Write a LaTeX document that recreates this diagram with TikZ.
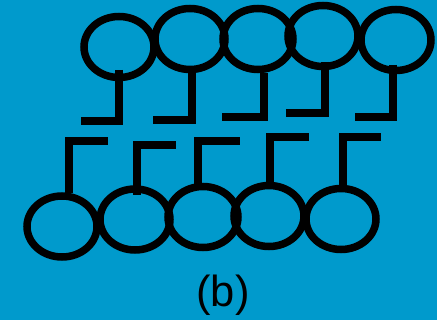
\documentclass[tikz,border=0pt]{standalone}
\usepackage{fontspec}
\setmainfont{Liberation Sans}
\usetikzlibrary{shapes.geometric}
\definecolor{bg}{RGB}{0,154,204}
\begin{document}
\begin{tikzpicture}[x=1pt,y=-1pt,
  ring/.style={draw=black,line width=7.5pt,ellipse,minimum width=70pt,minimum height=61pt,inner sep=0pt,outer sep=0pt},
  stem/.style={draw=black,line width=7.5pt,line cap=butt,line join=miter}]
\fill[bg] (0,0) rectangle (437,320);
\useasboundingbox (0,0) rectangle (437,320);
% top row
\node[ring] (t1) at (119,47) {};
\node[ring] (t2) at (190,39) {};
\node[ring] (t3) at (258,39) {};
\node[ring] (t4) at (323,36) {};
\node[ring] (t5) at (396,40) {};
% bottom row
\node[ring] (b1) at (62,226.5) {};
\node[ring] (b2) at (135,219.5) {};
\node[ring] (b3) at (203,217) {};
\node[ring] (b4) at (269,216) {};
\node[ring] (b5) at (341,219) {};
% stem anchor coordinates
\coordinate (t1s) at (119,70);  \coordinate (t1e) at (81,121);
\coordinate (t2s) at (192,72);  \coordinate (t2e) at (153,120);
\coordinate (t3s) at (264,73);  \coordinate (t3e) at (222,117);
\coordinate (t4s) at (325,62);  \coordinate (t4e) at (286,113);
\coordinate (t5s) at (393,65);  \coordinate (t5e) at (355,117);
\coordinate (b1s) at (69,193);  \coordinate (b1e) at (108,141);
\coordinate (b2s) at (137,195); \coordinate (b2e) at (176,145);
\coordinate (b3s) at (198,185); \coordinate (b3e) at (240,141);
\coordinate (b4s) at (270,182); \coordinate (b4e) at (309,137);
\coordinate (b5s) at (343,185); \coordinate (b5e) at (381,137);
\foreach \k in {t1,t2,t3,t4,t5,b1,b2,b3,b4,b5}{
  \draw[stem] (\k s) |- (\k e);
}
\node[font=\fontsize{43.5}{44}\selectfont,inner sep=0pt,anchor=base] (lbl) at (223,307) {(b)};
\end{tikzpicture}
\end{document}
